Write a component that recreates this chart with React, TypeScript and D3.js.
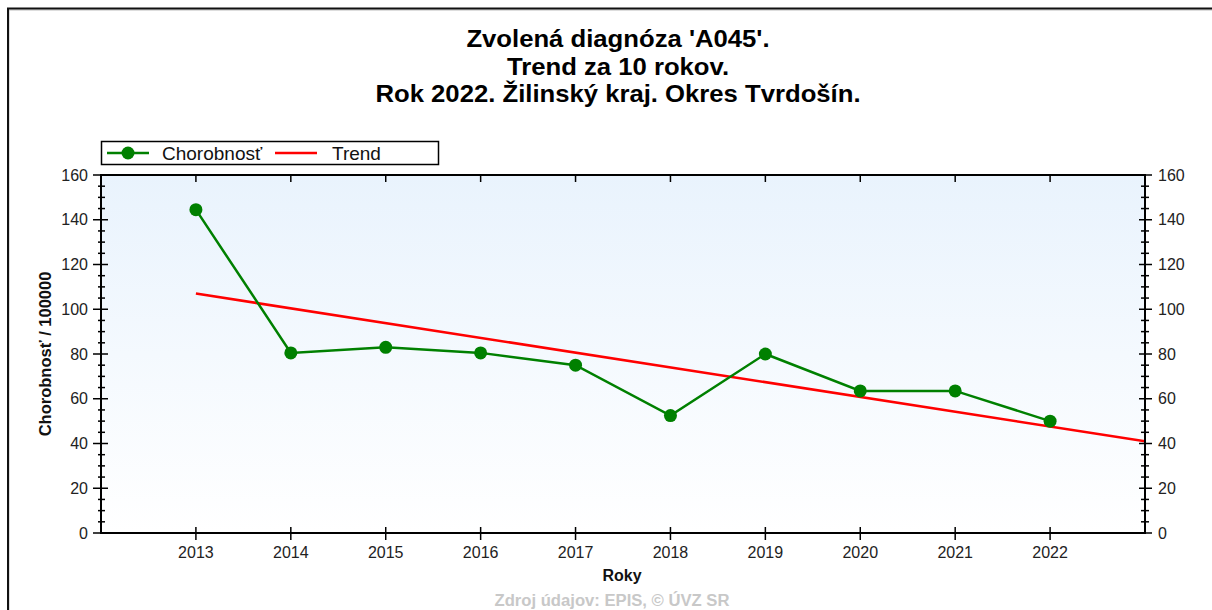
import React from "react";
import * as d3 from "d3";

const titleLines = ["Zvolená diagnóza 'A045'.", "Trend za 10 rokov.", "Rok 2022. Žilinský kraj. Okres Tvrdošín."];
const years = [2013, 2014, 2015, 2016, 2017, 2018, 2019, 2020, 2021, 2022];
const morbidity = [144.5, 80.5, 83, 80.5, 75, 52.5, 80, 63.5, 63.5, 50];
const trendYears = [2013, 2023];
const trendValues = [107, 41];
const yTicks = [0, 20, 40, 60, 80, 100, 120, 140, 160];
const legendLabels = ["Chorobnosť", "Trend"];
const xLabel = "Roky";
const yLabel = "Chorobnosť / 100000";
const footer = "Zdroj údajov: EPIS, © ÚVZ SR";

const W = 1212, H = 610;
const L = 101, R = 1145, T = 175, B = 533;
const FONT = "'Liberation Sans', Arial, sans-serif";

export default function App() {
  const x = d3.scaleLinear().domain([2012, 2023]).range([L, R]);
  const y = d3.scaleLinear().domain([0, 160]).range([B, T]);
  const minor = d3.range(0, 161, 5).filter((v) => v % 20 !== 0);
  const line = d3.line<number>().x((_, i) => x(years[i])).y((d) => y(d));
  const tline = d3.line<number>().x((_, i) => x(trendYears[i])).y((d) => y(d));

  return (
    <svg width={W} height={H} style={{ position: "absolute", left: 0, top: 0, background: "#fff" }} fontFamily={FONT}>
      <defs>
        <linearGradient id="bg" x1="0" y1="0" x2="0" y2="1">
          <stop offset="0" stopColor="#e9f3fd" />
          <stop offset="1" stopColor="#ffffff" />
        </linearGradient>
        <clipPath id="clip">
          <rect x={L} y={T} width={R - L} height={B - T} />
        </clipPath>
      </defs>
      {/* frame */}
      <path d={`M9,${H} V10 H${W}`} fill="none" stroke="#bbb" strokeWidth={1} />
      <path d={`M8,${H} V8.5 H${W}`} fill="none" stroke="#111" strokeWidth={2} />

      {/* title */}
      {titleLines.map((t, i) => (
        <text key={i} x={618} y={47.5 + i * 27.5} textAnchor="middle" fontSize={24} fontWeight="bold" fill="#000"
          transform={`translate(618,0) scale(1.07,1) translate(-618,0)`}>{t}</text>
      ))}

      {/* plot background */}
      <rect x={L} y={T} width={R - L} height={B - T} fill="url(#bg)" />

      {/* trend and series */}
      <g clipPath="url(#clip)">
        <path d={tline(trendValues) || ""} fill="none" stroke="#ff0000" strokeWidth={2.6} />
      </g>
      <path d={line(morbidity) || ""} fill="none" stroke="#008000" strokeWidth={2.5} />
      {morbidity.map((v, i) => (
        <circle key={i} cx={x(years[i])} cy={y(v)} r={6.5} fill="#008000" />
      ))}

      {/* axes frame */}
      <rect x={L} y={T} width={R - L} height={B - T} fill="none" stroke="#000" strokeWidth={2} />

      {/* x ticks */}
      {years.map((yr) => (
        <g key={yr}>
          <line x1={x(yr)} x2={x(yr)} y1={B - 6} y2={B + 7} stroke="#000" strokeWidth={1.5} />
          <line x1={x(yr)} x2={x(yr)} y1={T} y2={T + 7} stroke="#000" strokeWidth={1.5} />
          <text x={x(yr)} y={558} textAnchor="middle" fontSize={16} fill="#222">{yr}</text>
        </g>
      ))}

      {/* y ticks */}
      {yTicks.map((v) => (
        <g key={v}>
          <line x1={L - 8} x2={L + 7} y1={y(v)} y2={y(v)} stroke="#000" strokeWidth={1.5} />
          <line x1={R - 6} x2={R + 7} y1={y(v)} y2={y(v)} stroke="#000" strokeWidth={1.5} />
          <text x={88} y={y(v) + 5.5} textAnchor="end" fontSize={16} fill="#222">{v}</text>
          <text x={1158} y={y(v) + 5.5} textAnchor="start" fontSize={16} fill="#222">{v}</text>
        </g>
      ))}
      {minor.map((v) => (
        <g key={"m" + v}>
          <line x1={L - 3} x2={L + 4} y1={y(v)} y2={y(v)} stroke="#000" strokeWidth={1.5} />
          <line x1={R - 4} x2={R + 4} y1={y(v)} y2={y(v)} stroke="#000" strokeWidth={1.5} />
        </g>
      ))}

      {/* axis labels */}
      <text x={622} y={581} textAnchor="middle" fontSize={16} fontWeight="bold" fill="#111">{xLabel}</text>
      <text transform={`translate(51,354) rotate(-90)`} textAnchor="middle" fontSize={16.5} fontWeight="bold" fill="#111">{yLabel}</text>

      {/* legend */}
      <rect x={101.5} y={141.5} width={337} height={23} fill="#fff" stroke="#000" strokeWidth={1.5} />
      <line x1={107} x2={149} y1={153} y2={153} stroke="#008000" strokeWidth={2.5} />
      <circle cx={128} cy={153} r={6.5} fill="#008000" />
      <text x={162} y={160} fontSize={19} fill="#111">{legendLabels[0]}</text>
      <line x1={275} x2={317} y1={153} y2={153} stroke="#ff0000" strokeWidth={2.6} />
      <text x={332} y={160} fontSize={19} fill="#111">{legendLabels[1]}</text>

      {/* footer */}
      <text x={612} y={606} textAnchor="middle" fontSize={16} fontWeight="bold" fill="#c8c8c8"
        transform={`translate(612,0) scale(1.04,1) translate(-612,0)`}>{footer}</text>
    </svg>
  );
}
